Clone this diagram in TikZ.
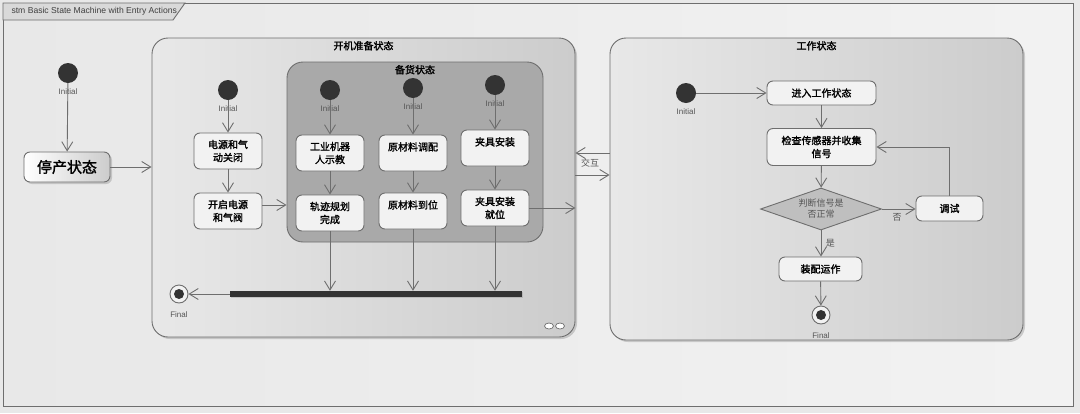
\documentclass[tikz,border=0pt]{standalone}
\usepackage{fontspec}
\setmainfont{Liberation Sans}
\newfontfamily\cjk[AutoFakeBold=1.6]{Noto Sans CJK SC}
\usetikzlibrary{arrows.meta,shapes.geometric,shadows}

\definecolor{linegray}{HTML}{6E6E6E}
\definecolor{boxfill}{HTML}{F2F2F2}
\definecolor{dotfill}{HTML}{333333}
\definecolor{bgfill}{HTML}{E8E8E8}
\definecolor{stockfill}{HTML}{A9A9A9}
\definecolor{labelgray}{HTML}{555555}

\tikzset{
  line/.style = {draw=linegray, line width=0.9pt},
  flow/.style = {line, -{Straight Barb[length=9pt,width=11pt]}},
  act/.style = {line, fill=boxfill, rounded corners=6pt, align=center, inner sep=1pt,
                font=\cjk\bfseries\fontsize{10}{13}\selectfont, minimum width=68pt, minimum height=36pt},
  container/.style = {line, rounded corners=16pt, left color=bgfill, right color=black!20,
                drop shadow={shadow xshift=2pt, shadow yshift=-2pt, opacity=.35}},
  ctitle/.style = {anchor=north, font=\cjk\bfseries\fontsize{10}{12}\selectfont},
  start/.style = {circle, fill=dotfill, minimum size=20pt, inner sep=0pt,
                label={[font=\fontsize{8}{9}\selectfont, text=labelgray, inner sep=1pt, label distance=4pt]below:Initial}},
  final/.style = {circle, line, fill=boxfill, minimum size=18pt, inner sep=0pt,
                path picture={\fill[dotfill] (path picture bounding box.center) circle (5pt);},
                label={[font=\fontsize{8}{9}\selectfont, text=labelgray, inner sep=1pt, label distance=7pt]below:Final}},
  elabel/.style = {font=\cjk\fontsize{9}{10}\selectfont, text=labelgray}
}

\begin{document}
\begin{tikzpicture}[x=1pt, y=-1pt]
\useasboundingbox (0,0) rectangle (1080,413);
\fill[bgfill] (0,0) rectangle (1080,413);

% frame
\draw[line, left color=bgfill, right color=black!5] (3,3) rectangle (1073,406);
\draw[line, fill=black!15] (3,3) -- (185,3) -- (173,20) -- (3,20) -- cycle;
\node (frametitle) [anchor=west, font=\fontsize{8.6}{9}\selectfont, text=black!75] at (8,11.5) {stm Basic State Machine with Entry Actions};

% stopped state
\node (init) [start] at (68,73) {};
\node (stop) [act, minimum width=86pt, minimum height=30pt, left color=white, right color=black!20,
  drop shadow={shadow xshift=2pt, shadow yshift=-2pt, opacity=.35},
  font=\cjk\bfseries\fontsize{15}{17}\selectfont] at (67,167) {停产状态};
\draw[flow] (init) -- (stop);

% power-on preparation
\node (prep) [container, minimum width=423pt, minimum height=299pt] at (363.5,187.5) {};
\node (preptitle) [ctitle] at (prep.north) {开机准备状态};
\draw[flow] (stop.east) -- (stop.east -| prep.west);

\node (pinit) [start] at (228,90) {};
\node (poweroff) [act] at (228,151) {电源和气\\动关闭};
\node (poweron) [act] at (228,211) {开启电源\\和气阀};
\draw[flow] (pinit) -- (poweroff);
\draw[flow] (poweroff) -- (poweron);

\node (stock) [line, fill=stockfill, rounded corners=16pt, minimum width=256pt, minimum height=180pt] at (415,152) {};
\node (stocktitle) [ctitle] at (stock.north) {备货状态};
\draw[flow] (poweron.east |- 0,205) -- (stock.west |- 0,205);

\node (sinit1) [start] at (330,90) {};
\node (sinit2) [start] at (413,88) {};
\node (sinit3) [start] at (495,85) {};
\node (teach) [act] at (330,153) {工业机器\\人示教};
\node (mix) [act] at (413,153) {原材料调配\\\mbox{}};
\node (fixture) [act] at (495,148) {夹具安装\\\mbox{}};
\node (traj) [act] at (330,213) {轨迹规划\\完成};
\node (ready) [act] at (413,211) {原材料到位\\\mbox{}};
\node (fixed) [act] at (495,208) {夹具安装\\就位};
\draw[flow] (sinit1) -- (teach);
\draw[flow] (sinit2) -- (mix);
\draw[flow] (sinit3) -- (fixture);
\draw[flow] (teach) -- (traj);
\draw[flow] (mix) -- (ready);
\draw[flow] (fixture) -- (fixed);
\draw[flow] (fixed.east) -- (fixed.east -| prep.east);

\node (join) [fill=dotfill, minimum width=292pt, minimum height=6pt, inner sep=0pt,
  drop shadow={shadow xshift=1pt, shadow yshift=-1pt, opacity=.3}] at (376,294) {};
\draw[flow] (traj.south) -- (traj.south |- join.north);
\draw[flow] (ready.south) -- (ready.south |- join.north);
\draw[flow] (fixed.south) -- (fixed.south |- join.north);
\node (pfinal) [final] at (179,294) {};
\draw[flow] (join.west) -- (pfinal.east);

\draw[line, line width=0.7pt, fill=white] (549,326) ellipse (4.5pt and 3pt) (560,326) ellipse (4.5pt and 3pt);

% working state
\node (work) [container, minimum width=413pt, minimum height=302pt] at (816.5,189) {};
\node (worktitle) [ctitle] at (work.north) {工作状态};
\draw[flow] (work.west |- 0,153) -- (prep.east |- 0,153);
\draw[flow] (prep.east |- 0,175) -- (work.west |- 0,175);
\node (talk) [elabel] at (590,163) {交互};

\node (winit) [start] at (686,93) {};
\node (enter) [act, minimum width=109pt, minimum height=24pt] at (821.5,93) {进入工作状态};
\node (check) [act, minimum width=109pt, minimum height=37pt] at (821.5,147) {检查传感器并收集\\信号};
\node (judge) [diamond, line, fill=black!25, minimum width=121pt, minimum height=42pt, aspect=2.9,
  inner sep=0pt, align=center, font=\cjk\fontsize{9}{11}\selectfont, text=labelgray] at (821,209) {判断信号是\\否正常};
\node (debug) [act, minimum width=67pt, minimum height=25pt] at (949.5,208.5) {调试};
\node (assemble) [act, minimum width=83pt, minimum height=24pt] at (820.5,269) {装配运作};
\node (wfinal) [final] at (821,315) {};
\draw[flow] (winit) -- (enter);
\draw[flow] (enter) -- (check);
\draw[flow] (check) -- (judge);
\draw[flow] (judge.east) -- (debug.west |- judge.east) node [elabel, pos=0.45, below=1pt] {否};
\draw[flow] (debug.north) |- (check.east);
\draw[flow] (judge.south) -- (assemble.north -| judge.south) node [elabel, midway, right=1pt] {是};
\draw[flow] (assemble) -- (wfinal);
\end{tikzpicture}
\end{document}
